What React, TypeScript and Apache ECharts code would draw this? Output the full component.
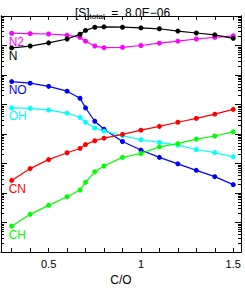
import React, { useEffect, useRef } from "react";
import * as echarts from "echarts";

const xValues = [0.3, 0.4, 0.5, 0.6, 0.67, 0.7, 0.75, 0.8, 0.9, 1.0, 1.1, 1.2, 1.3, 1.4, 1.5];

const seriesN = [8.3e-6, 9.6e-6, 1.23e-5, 1.66e-5, 2.41e-5, 3.25e-5, 4.17e-5, 4.29e-5, 4.17e-5, 3.98e-5, 3.69e-5, 3.09e-5, 2.66e-5, 2.29e-5, 1.75e-5];
const seriesN2 = [2.6e-5, 2.54e-5, 2.46e-5, 2.24e-5, 1.88e-5, 1.4e-5, 9.6e-6, 8.45e-6, 8.64e-6, 1.0e-5, 1.2e-5, 1.4e-5, 1.66e-5, 1.88e-5, 2.12e-5];
const seriesNO = [6.0e-7, 5.3e-7, 4.13e-7, 2.84e-7, 1.63e-7, 7.7e-8, 2.71e-8, 1.46e-8, 5.6e-9, 2.87e-9, 1.62e-9, 9.8e-10, 5.9e-10, 3.6e-10, 1.93e-10];
const seriesOH = [7.7e-8, 7.4e-8, 6.5e-8, 5.1e-8, 3.65e-8, 2.51e-8, 1.6e-8, 1.25e-8, 8.8e-9, 6.4e-9, 5.2e-9, 4.2e-9, 3.0e-9, 2.36e-9, 1.69e-9];
const seriesCN = [2.69e-10, 6.75e-10, 1.36e-9, 2.32e-9, 3.25e-9, 4.39e-9, 5.92e-9, 7.24e-9, 9.77e-9, 1.35e-8, 1.82e-8, 2.51e-8, 3.39e-8, 4.71e-8, 6.86e-8];
const seriesCH = [7.55e-12, 1.9e-11, 3.84e-11, 7.52e-11, 1.27e-10, 2.31e-10, 5.27e-10, 8.26e-10, 1.62e-9, 2.19e-9, 3.69e-9, 4.73e-9, 6.73e-9, 8.61e-9, 1.19e-8];

const seriesNames = ["N2", "N", "NO", "OH", "CN", "CH"];
const seriesColors = ["#ff00ff", "#000000", "#0000ff", "#00ffff", "#ff0000", "#00ff00"];
const seriesValues = [seriesN2, seriesN, seriesNO, seriesOH, seriesCN, seriesCH];

const xTickValues = [0.3, 0.4, 0.5, 0.6, 0.7, 0.8, 0.9, 1.0, 1.1, 1.2, 1.3, 1.4, 1.5];
const xLabelValues = [0.5, 1, 1.5];
const yDecadeExponents = [-12, -11, -10, -9, -8, -7, -6, -5, -4];
const yMinorFactors = [2, 3, 4, 5, 6, 7, 8, 9];

const titleMain = "[S]";
const titleSub = "total";
const titleRest = "  =  8.0E\u221206";
const xName = "C/O";

const FONT = "'Liberation Sans', Arial, sans-serif";

export default function App() {
  const ref = useRef<HTMLDivElement>(null);
  useEffect(() => {
    document.body.style.margin = "0";
    const chart = echarts.init(ref.current!, null, { renderer: "svg" });
    const yMinor: number[] = [];
    yDecadeExponents.slice(0, -1).forEach((e) => {
      yMinorFactors.forEach((f) => yMinor.push(e + Math.log10(f)));
    });
    const yMin = yDecadeExponents[0];
    const yMax = yDecadeExponents[yDecadeExponents.length - 1];
    const tickAxis = (pos: string, values: number[], len: number) => ({
      type: "value",
      position: pos,
      min: yMin,
      max: yMax,
      axisLine: { show: true, onZero: false, lineStyle: { color: "#000", width: 1 } },
      axisTick: { show: true, inside: true, length: len, customValues: values, lineStyle: { color: "#000", width: 1 } },
      axisLabel: { show: false },
      splitLine: { show: false },
    });
    const xAxisBase = (pos: string, labels: boolean) => ({
      type: "value",
      position: pos,
      min: 0.242,
      max: 1.542,
      axisLine: { show: true, onZero: false, lineStyle: { color: "#000", width: 1 } },
      axisTick: { show: true, inside: true, length: 4, customValues: xTickValues, lineStyle: { color: "#000", width: 1 } },
      axisLabel: labels
        ? { show: true, customValues: xLabelValues, formatter: (v: number) => String(v), color: "#000", fontSize: 11, fontFamily: FONT, margin: 6 }
        : { show: false },
      splitLine: { show: false },
      name: labels ? xName : "",
      nameLocation: "middle",
      nameGap: 20,
      nameTextStyle: { color: "#000", fontSize: 12, fontFamily: FONT },
    });
    chart.setOption({
      animation: false,
      backgroundColor: "#fff",
      title: {
        text: `{m|${titleMain}}{s|${titleSub}}{m|${titleRest}}`,
        left: "center",
        top: 1,
        textStyle: {
          fontWeight: "normal",
          rich: {
            m: { fontSize: 12, fontWeight: "normal", fontFamily: FONT, color: "#000" },
            s: { fontSize: 8, fontWeight: "normal", fontFamily: FONT, color: "#000", verticalAlign: "bottom", padding: [6, 0, 0, 0] },
          },
        },
      },
      grid: { left: 1, right: 4, top: 16, bottom: 29, containLabel: false },
      xAxis: [xAxisBase("bottom", true), xAxisBase("top", false)],
      yAxis: [
        { type: "log", min: Math.pow(10, yMin), max: Math.pow(10, yMax), show: false, logBase: 10 },
        tickAxis("left", yDecadeExponents, 6),
        tickAxis("left", yMinor, 3),
        tickAxis("right", yDecadeExponents, 6),
        tickAxis("right", yMinor, 3),
      ],
      series: seriesNames.map((name, i) => ({
        type: "line",
        name,
        xAxisIndex: 0,
        yAxisIndex: 0,
        data: xValues.map((x, j) => [x, seriesValues[i][j]]),
        symbol: "circle",
        symbolSize: 5,
        color: seriesColors[i],
        lineStyle: { width: 1.2, color: seriesColors[i] },
        itemStyle: { color: seriesColors[i] },
        label: {
          show: true,
          position: "bottom",
          distance: 0,
          align: "left",
          offset: [-3, 0],
          color: seriesColors[i],
          fontSize: 12,
          fontFamily: FONT,
          formatter: (p: any) => (p.dataIndex === 0 ? name : ""),
        },
      })),
    });
    return () => chart.dispose();
  }, []);
  return <div ref={ref} style={{ width: 245, height: 291 }} />;
}
